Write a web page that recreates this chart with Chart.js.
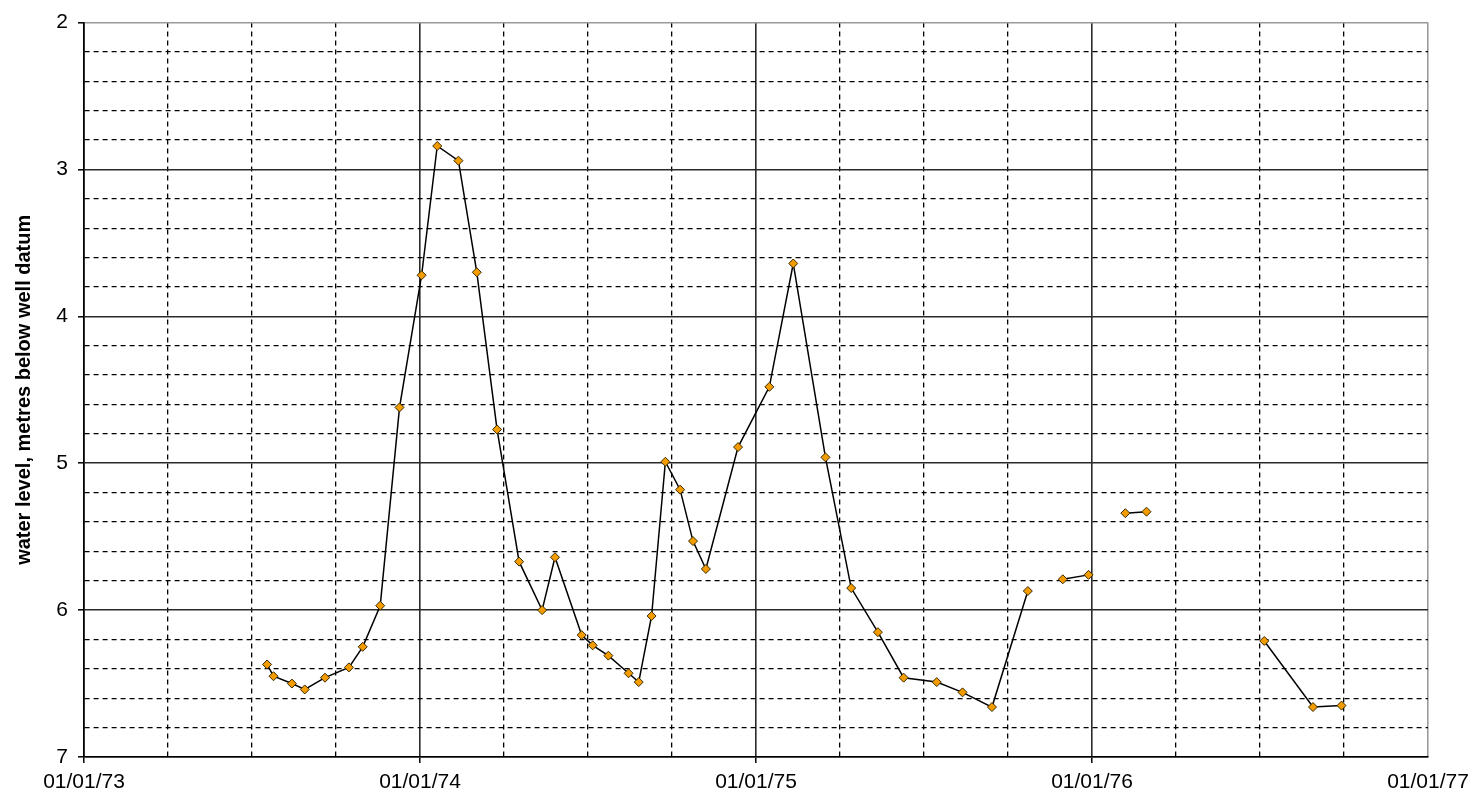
<!DOCTYPE html>
<html lang="en">
<head>
    <meta charset="UTF-8">
    <title>Water level</title>
    <script src="https://cdn.jsdelivr.net/npm/chart.js"></script>
    <style>
        html, body { margin: 0; padding: 0; background: #ffffff; }
        #grafico { display: block; }
    </style>
</head>
<body>
    <canvas id="grafico" width="1480" height="796"></canvas>

<script>
    // sample dates and water levels (metres below well datum), null = gap in the record
    var sampleDates = [
        '1973-07-19', '1973-07-26', '1973-08-15', '1973-08-29', '1973-09-20', '1973-10-16',
        '1973-10-31', '1973-11-19', '1973-12-10', '1974-01-03', '1974-01-20', '1974-02-12',
        '1974-03-04', '1974-03-26', '1974-04-19', '1974-05-14', '1974-05-28', '1974-06-26',
        '1974-07-08', '1974-07-25', '1974-08-16', '1974-08-27', '1974-09-10', '1974-09-25',
        '1974-10-11', '1974-10-25', '1974-11-08', '1974-12-13', '1975-01-16', '1975-02-11',
        '1975-03-18', '1975-04-15', '1975-05-14', '1975-06-11', '1975-07-17', '1975-08-14',
        '1975-09-15', '1975-10-24', '1975-11-10', '1975-12-01', '1975-12-29', '1976-01-15',
        '1976-02-07', '1976-03-01', '1976-05-01', '1976-07-07', '1976-08-29', '1976-09-29'
    ];
    var waterLevels = [
        6.37, 6.45, 6.50, 6.54, 6.46, 6.39,
        6.25, 5.97, 4.62, 3.72, 2.84, 2.94,
        3.70, 4.77, 5.67, 6.00, 5.64, 6.17,
        6.24, 6.31, 6.43, 6.49, 6.04, 4.99,
        5.18, 5.53, 5.72, 4.89, 4.48, 3.64,
        4.96, 5.85, 6.15, 6.46, 6.49, 6.56,
        6.66, 5.87, null, 5.79, 5.76, null,
        5.34, 5.33, null, 6.21, 6.66, 6.65
    ];

    var xTickLabels = ['01/01/73', '01/01/74', '01/01/75', '01/01/76', '01/01/77'];
    var yTickLabels = ['2', '3', '4', '5', '6', '7'];

    var inicio = Date.UTC(1973, 0, 1);
    var fim = Date.UTC(1977, 0, 1);
    var totalDias = (fim - inicio) / 86400000;

    function diasDesde(s) {
        var p = s.split('-');
        return (Date.UTC(+p[0], +p[1] - 1, +p[2]) - inicio) / 86400000;
    }

    var pontos = [];
    for (var i = 0; i < sampleDates.length; i++) {
        pontos.push({ x: diasDesde(sampleDates[i]), y: waterLevels[i] });
    }

    var fonte = { family: '"Liberation Sans", Arial, sans-serif', size: 21 };

    function ehMaior(ctx, passo) {
        return ctx.type === 'tick' && ctx.index % passo === 0;
    }

    var config = {
        type: 'line',
        data: {
            datasets: [{
                data: pontos,
                borderColor: '#000000',
                borderWidth: 1.5,
                pointStyle: 'rectRot',
                pointRadius: 4.5,
                pointBackgroundColor: '#f39c00',
                pointBorderColor: '#3a2a00',
                pointBorderWidth: 1,
                spanGaps: false,
                tension: 0
            }]
        },
        options: {
            responsive: false,
            devicePixelRatio: 1,
            animation: false,
            layout: { padding: { top: 22, right: 52, left: 0, bottom: 0 } },
            plugins: { legend: { display: false }, tooltip: { enabled: false } },
            scales: {
                x: {
                    type: 'linear',
                    min: 0,
                    max: totalDias,
                    afterBuildTicks: function (scale) {
                        var t = [];
                        for (var k = 0; k <= 16; k++) t.push({ value: k * totalDias / 16 });
                        scale.ticks = t;
                    },
                    afterFit: function (scale) { scale.height = 39; },
                    ticks: {
                        autoSkip: false,
                        maxRotation: 0,
                        padding: 7,
                        color: '#000000',
                        font: fonte,
                        callback: function (v, idx) {
                            return idx % 4 === 0 ? xTickLabels[idx / 4] : '';
                        }
                    },
                    grid: {
                        color: function (ctx) {
                            if (ctx.index === 16) return '#9a9a9a';
                            return ehMaior(ctx, 4) ? '#2a2a2a' : '#000000';
                        },
                        lineWidth: function (ctx) { return ehMaior(ctx, 4) ? 1.6 : 1.3; },
                        drawTicks: true,
                        tickLength: 6,
                        tickWidth: 1.5,
                        tickColor: function (ctx) {
                            return ehMaior(ctx, 4) && ctx.index !== 16 ? '#000000' : 'rgba(0,0,0,0)';
                        }
                    },
                    border: {
                        display: true,
                        color: '#000000',
                        width: 1.6,
                        dash: function (ctx) { return ehMaior(ctx, 4) ? [] : [5, 4]; }
                    }
                },
                y: {
                    type: 'linear',
                    reverse: true,
                    min: 2,
                    max: 7,
                    afterBuildTicks: function (scale) {
                        var t = [];
                        for (var k = 0; k <= 25; k++) t.push({ value: 2 + k * 0.2 });
                        scale.ticks = t;
                    },
                    afterFit: function (scale) { scale.width = 84; },
                    ticks: {
                        autoSkip: false,
                        padding: 10,
                        color: '#000000',
                        font: fonte,
                        callback: function (v, idx) {
                            return idx % 5 === 0 ? yTickLabels[idx / 5] : '';
                        }
                    },
                    grid: {
                        color: function (ctx) {
                            if (ctx.index === 0) return '#9a9a9a';
                            return ehMaior(ctx, 5) ? '#2a2a2a' : '#000000';
                        },
                        lineWidth: function (ctx) { return ehMaior(ctx, 5) ? 1.6 : 1.3; },
                        drawTicks: true,
                        tickLength: 6,
                        tickWidth: 1.5,
                        tickColor: function (ctx) {
                            return ehMaior(ctx, 5) ? '#000000' : 'rgba(0,0,0,0)';
                        }
                    },
                    border: {
                        display: true,
                        color: '#000000',
                        width: 1.6,
                        dash: function (ctx) { return ehMaior(ctx, 5) ? [] : [5, 4]; }
                    },
                    title: {
                        display: true,
                        text: 'water level, metres below well datum',
                        color: '#000000',
                        padding: { top: 12, bottom: 0 },
                        font: { family: '"Liberation Sans", Arial, sans-serif', size: 20, weight: 'bold' }
                    }
                }
            }
        }
    };

    var grafico = new Chart(document.getElementById('grafico'), config);
</script>
</body>
</html>
